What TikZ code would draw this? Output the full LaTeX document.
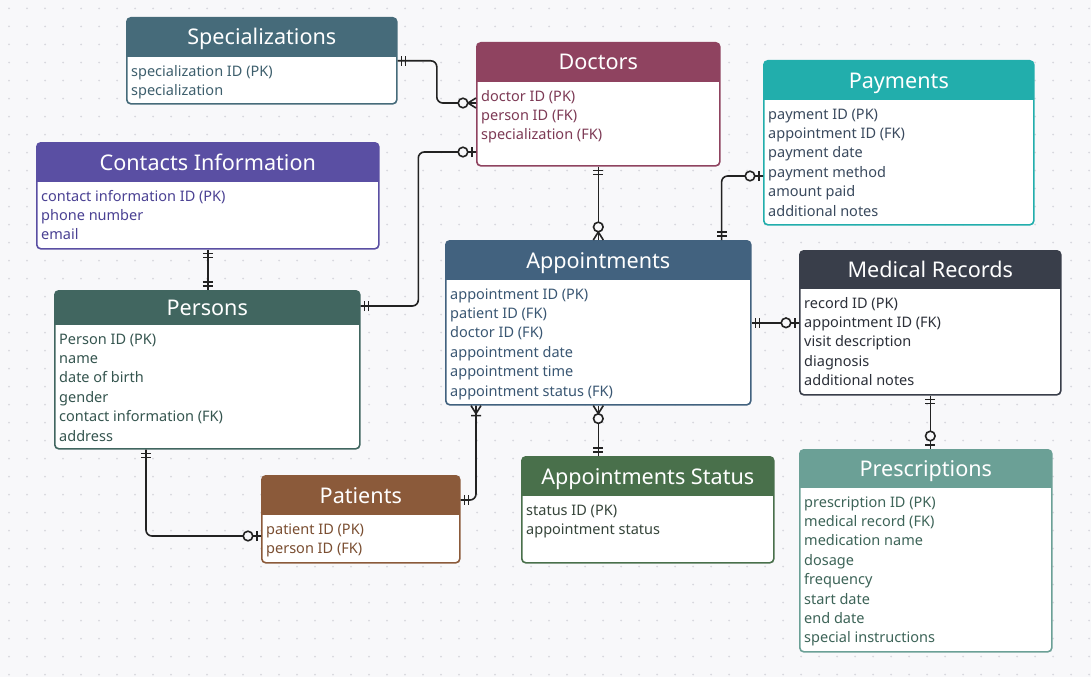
\documentclass[tikz,border=0pt]{standalone}
\usepackage{fontspec}
\setmainfont{Noto Sans}
\usepackage{tikz}
\usetikzlibrary{calc,decorations.markings}

\definecolor{bgc}{HTML}{F8F8FA}
\definecolor{dotc}{HTML}{D8D8DE}
\definecolor{linec}{HTML}{222222}
\definecolor{specC}{HTML}{466B7A}\definecolor{specCtext}{HTML}{3E5F6D}
\definecolor{doctC}{HTML}{8F4360}\definecolor{doctCtext}{HTML}{7D3A55}
\definecolor{paymC}{HTML}{22AEAC}\definecolor{paymCtext}{HTML}{3A4A5E}
\definecolor{contC}{HTML}{5A4FA3}\definecolor{contCtext}{HTML}{4A4193}
\definecolor{persC}{HTML}{416660}\definecolor{persCtext}{HTML}{35554F}
\definecolor{apptC}{HTML}{42627F}\definecolor{apptCtext}{HTML}{3A5773}
\definecolor{medrC}{HTML}{393E4A}\definecolor{medrCtext}{HTML}{2B2F38}
\definecolor{presC}{HTML}{6BA096}\definecolor{presCtext}{HTML}{3D6458}
\definecolor{patiC}{HTML}{8B5A3A}\definecolor{patiCtext}{HTML}{7A4E31}
\definecolor{statC}{HTML}{49704B}\definecolor{statCtext}{HTML}{36453A}

% one entity: name, colour, x, y, width, height, header height, title, rows
\newcommand{\erentity}[9]{%
  \node[entity={#2}{#7}, minimum width=#5pt, minimum height=#6pt] (#1) at (#3,#4) {};
  \node[entitytitle] (#1-title) at ($(#1.north)+(0,#7/2+8.5)$) {#8};
  \node[entityrows, text=#2text] (#1-rows) at ($(#1.north west)+(5,#7+20)$)
    {\begin{tabular}[t]{@{}l@{}}#9\end{tabular}};
}

% end marks, drawn with the box at the origin and the line along -x
\newcommand{\erOne}{\draw[erm] (-4pt,-5pt) -- (-4pt,5pt) (-8pt,-5pt) -- (-8pt,5pt);}
\newcommand{\erZeroOne}{\draw[erm] (-4pt,-5pt) -- (-4pt,5pt); \draw[erm, fill=bgc] (-13pt,0) circle (4.8pt);}
\newcommand{\erZeroMany}{\draw[erm] (-8pt,0) -- (0,5pt) (-8pt,0) -- (0,-5pt); \draw[erm, fill=bgc] (-13pt,0) circle (4.8pt);}
\newcommand{\erOneMany}{\draw[erm] (-8pt,0) -- (0,5pt) (-8pt,0) -- (0,-5pt) (-10pt,-5pt) -- (-10pt,5pt);}

\begin{document}
\begin{tikzpicture}[
    x=1pt, y=-1pt,
    entity/.style 2 args={rectangle, draw=#1, fill=white, line width=1.6pt, rounded corners=4pt,
        anchor=north west, inner sep=0pt,
        path picture={\fill[#1, sharp corners] (path picture bounding box.north west)
            rectangle ([yshift=-#2pt]path picture bounding box.north east);}},
    entitytitle/.style={anchor=base, text=white, inner sep=0pt, font=\fontsize{21.6}{25}\selectfont},
    entityrows/.style={anchor=base west, inner sep=0pt, font=\fontsize{14.5}{19.4}\selectfont},
    rel/.style={draw=linec, line width=1.6pt, rounded corners=6pt},
    erm/.style={draw=linec, line width=1.6pt, sharp corners},
    one end/.style={postaction={decorate, decoration={markings, mark=at position 0.9999 with {\erOne}}}},
    one start/.style={postaction={decorate, decoration={markings, mark=at position 0 with {\begin{scope}[xscale=-1]\erOne\end{scope}}}}},
    zone end/.style={postaction={decorate, decoration={markings, mark=at position 0.9999 with {\erZeroOne}}}},
    zmany end/.style={postaction={decorate, decoration={markings, mark=at position 0.9999 with {\erZeroMany}}}},
    zmany start/.style={postaction={decorate, decoration={markings, mark=at position 0 with {\begin{scope}[xscale=-1]\erZeroMany\end{scope}}}}},
    omany start/.style={postaction={decorate, decoration={markings, mark=at position 0 with {\begin{scope}[xscale=-1]\erOneMany\end{scope}}}}}]

% page and dot grid
\fill[bgc] (0,0) rectangle (1091,677);
\useasboundingbox (0,0) rectangle (1091,677);
\foreach \i in {0,...,60}
  \foreach \j in {0,...,37}
    \fill[dotc] (9+18*\i,8.5+18*\j) circle (1pt);

% tables
\erentity{spec}{specC}{126}{17}{270}{86}{39}{Specializations}{specialization ID (PK)\\ specialization}
\erentity{doct}{doctC}{476}{42}{243}{123}{39}{Doctors}{doctor ID (PK)\\ person ID (FK)\\ specialization (FK)}
\erentity{paym}{paymC}{763}{60}{270}{164}{39}{Payments}{payment ID (PK)\\ appointment ID (FK)\\ payment date\\ payment method\\ amount paid\\ additional notes}
\erentity{cont}{contC}{36}{142}{342}{106}{39}{Contacts Information}{contact information ID (PK)\\ phone number\\ email}
\erentity{pers}{persC}{54}{290}{305}{158}{34}{Persons}{Person ID (PK)\\ name\\ date of birth\\ gender\\ contact information (FK)\\ address}
\erentity{appt}{apptC}{445}{240}{305}{164}{39}{Appointments}{appointment ID (PK)\\ patient ID (FK)\\ doctor ID (FK)\\ appointment date\\ appointment time\\ appointment status (FK)}
\erentity{medr}{medrC}{799}{250}{261}{144}{38}{Medical Records}{record ID (PK)\\ appointment ID (FK)\\ visit description\\ diagnosis\\ additional notes}
\erentity{pres}{presC}{799}{449}{252}{202}{38}{Prescriptions}{prescription ID (PK)\\ medical record (FK)\\ medication name\\ dosage\\ frequency\\ start date\\ end date\\ special instructions}
\erentity{pati}{patiC}{261}{475}{198}{87}{39}{Patients}{patient ID (PK)\\ person ID (FK)}
\erentity{stat}{statC}{521}{456}{252}{106}{39}{Appointments Status}{status ID (PK)\\ appointment status}

% connector ends
\coordinate (doct-a) at ($(doct.north west)+(0,61)$);
\coordinate (doct-b) at ($(doct.north west)+(0,110)$);
\coordinate (pers-a) at ($(pers.north east)+(0,16)$);
\coordinate (pers-b) at ($(pers.south west)+(92,0)$);
\coordinate (appt-a) at ($(appt.north east)+(-30,0)$);
\coordinate (appt-b) at ($(appt.south west)+(31,0)$);
\coordinate (paym-a) at ($(paym.north west)+(0,116)$);
\coordinate (pati-a) at ($(pati.north east)+(0,25)$);
\coordinate (pati-b) at ($(pati.north west)+(0,61)$);

% relations
\draw[rel, one start, zmany end] (spec.east) -| ($(spec.east)!.5!(doct-a)$) |- (doct-a);
\draw[rel, one start, zone end] (pers-a) -| ($(pers-a)!.5!(doct-b)$) |- (doct-b);
\draw[rel, one start, one end] (cont.south) -- (cont.south |- pers.north);
\draw[rel, one start, zmany end] (doct.south) -- (appt.north);
\draw[rel, one start, zone end] (appt-a) |- (paym-a);
\draw[rel, one start, zone end] (appt.east) -- (medr.west);
\draw[rel, one start, zone end] (medr.south) -- (medr.south |- pres.north);
\draw[rel, zmany start, one end] (appt.south) -- (appt.south |- stat.north);
\draw[rel, omany start, one end] (appt-b) |- (pati-a);
\draw[rel, one start, zone end] (pers-b) |- (pati-b);

\end{tikzpicture}
\end{document}
